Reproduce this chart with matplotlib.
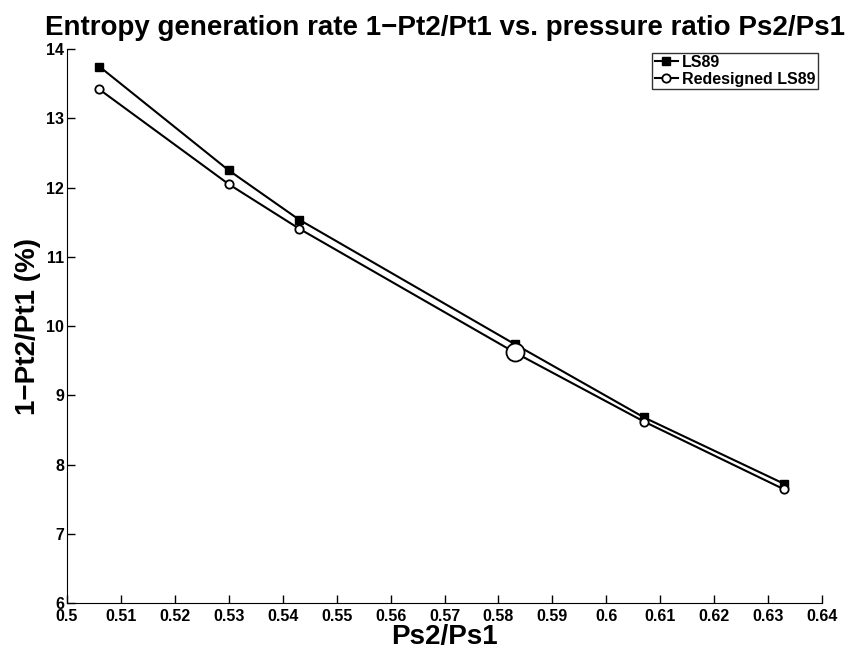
import numpy as np
import matplotlib
matplotlib.use("Agg")
from matplotlib import pyplot as plt

plt.rcParams['font.family'] = ['Liberation Sans', 'DejaVu Sans']
plt.rcParams['font.weight'] = 'bold'

# pressure ratio and entropy generation values
ps_ratio = [0.506, 0.530, 0.543, 0.583, 0.607, 0.633]
ls89 = [13.75, 12.25, 11.54, 9.74, 8.68, 7.72]
redesigned = [13.42, 12.05, 11.41, 9.62, 8.62, 7.64]
highlight = 3  # design point drawn with the big circle

xticks = [0.5, 0.51, 0.52, 0.53, 0.54, 0.55, 0.56, 0.57, 0.58, 0.59, 0.6, 0.61, 0.62, 0.63, 0.64]
xticklabels = ['0.5', '0.51', '0.52', '0.53', '0.54', '0.55', '0.56', '0.57', '0.58', '0.59', '0.6', '0.61', '0.62', '0.63', '0.64']
yticks = [6, 7, 8, 9, 10, 11, 12, 13, 14]

fig = plt.figure(figsize=(8.63, 6.53), dpi=100)
ax = fig.add_axes([0.0776, 0.0766, 0.875, 0.848])

ax.plot(ps_ratio, ls89, color='k', lw=1.5, marker='s', ms=5.2, mfc='k', mec='k', label='LS89')
ax.plot(ps_ratio, redesigned, color='k', lw=1.5, marker='o', ms=6, mfc='w', mec='k', mew=1.3,
        label='Redesigned LS89')
ax.plot(ps_ratio[highlight], redesigned[highlight], marker='o', ms=13, mfc='w', mec='k', mew=1.3)

ax.set_xlim(0.5, 0.64)
ax.set_ylim(6, 14)
ax.set_xticks(xticks)
ax.set_xticklabels(xticklabels, fontsize=11.5, fontweight='bold')
ax.set_yticks(yticks)
ax.set_yticklabels([str(t) for t in yticks], fontsize=11.5, fontweight='bold')
ax.tick_params(direction='in', length=6, width=1)
ax.tick_params(axis='x', pad=4)
ax.tick_params(axis='y', pad=2)
ax.spines['top'].set_visible(False)
ax.spines['right'].set_visible(False)

ax.set_title('Entropy generation rate 1\u2212Pt2/Pt1 vs. pressure ratio Ps2/Ps1',
             fontsize=20, fontweight='bold', pad=10)
ax.set_xlabel('Ps2/Ps1', fontsize=20, fontweight='bold', labelpad=0)
ax.set_ylabel('1\u2212Pt2/Pt1 (%)', fontsize=20, fontweight='bold', labelpad=4)

leg = ax.legend(loc='upper right', bbox_to_anchor=(0.994, 0.994), fontsize=11.5, frameon=True,
                fancybox=False, edgecolor='k', handlelength=1.5, handletextpad=0.2,
                borderpad=0.15, labelspacing=0.1, borderaxespad=0)
leg.get_frame().set_linewidth(1)
for t in leg.get_texts():
    t.set_fontweight('bold')

fig.savefig('out.png', dpi=100)
